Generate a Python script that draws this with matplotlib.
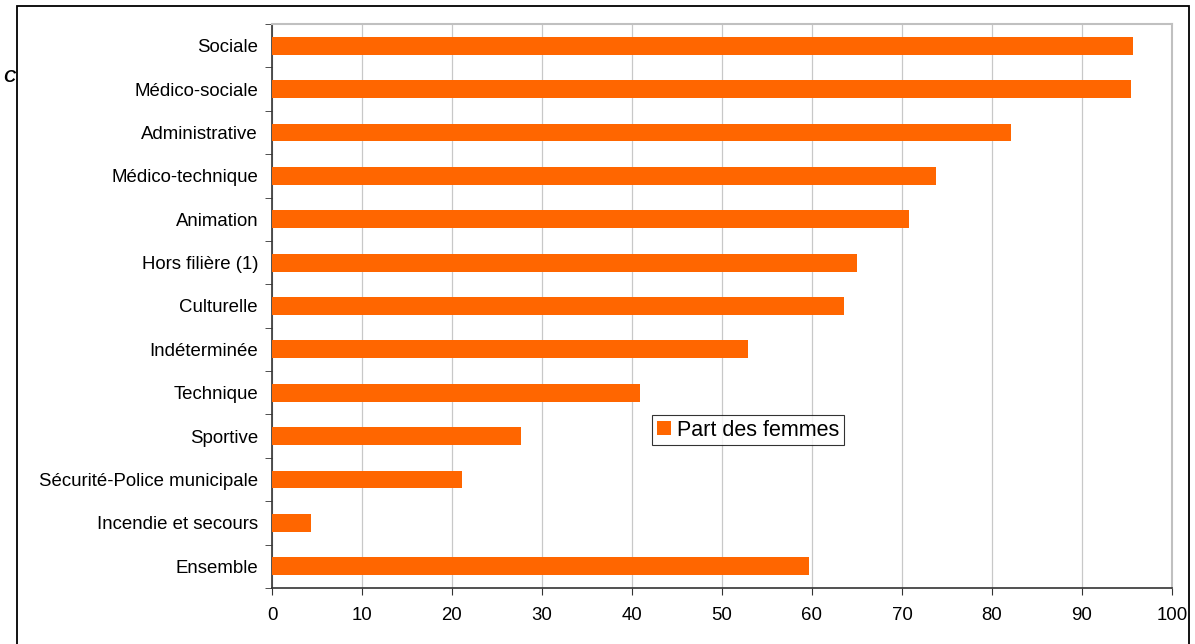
import matplotlib.pyplot as plt
import matplotlib.patches as patches
import numpy as np

plt.rcParams['font.family'] = ['Liberation Sans', 'DejaVu Sans']

categories = ["Sociale", "Médico-sociale", "Administrative", "Médico-technique",
              "Animation", "Hors filière (1)", "Culturelle", "Indéterminée",
              "Technique", "Sportive", "Sécurité-Police municipale",
              "Incendie et secours", "Ensemble"]
part_femmes = [95.7, 95.4, 82.1, 73.8, 70.8, 65.0, 63.6, 52.9, 40.9, 27.7, 21.1, 4.3, 59.7]

fig = plt.figure(figsize=(11.95, 6.44), dpi=100)
ax = fig.add_axes([272/1195, 1-588/644, 900/1195, 564/644])

y = np.arange(len(categories))[::-1]
ax.barh(y, part_femmes, height=0.41, color="#FF6600", label="Part des femmes", zorder=3)

ax.set_xlim(0, 100)
ax.set_ylim(-0.5, len(categories) - 0.5)
ax.set_xticks(np.arange(0, 101, 10))
ax.set_yticks(y)
ax.set_yticklabels(categories, fontsize=13.4)
ax.set_yticks(np.arange(-0.5, len(categories), 1), minor=True)
ax.tick_params(axis='y', which='major', length=0, pad=10)
ax.tick_params(axis='y', which='minor', length=5, color='#333333', direction='out')
ax.tick_params(axis='x', length=5, color='#333333', labelsize=13.4, pad=9)
ax.xaxis.grid(True, color='#c8c8c8', linewidth=0.9, zorder=0)

for s in ['top', 'right']:
    ax.spines[s].set_color('#c0c0c0')
    ax.spines[s].set_linewidth(1.5)
for s in ['left', 'bottom']:
    ax.spines[s].set_color('#333333')
    ax.spines[s].set_linewidth(1.2)

leg = ax.legend(loc='center', bbox_to_anchor=(0.529, 0.28), fontsize=15.5,
                frameon=True, fancybox=False, edgecolor='black',
                handlelength=0.65, handleheight=0.65, handletextpad=0.3,
                borderpad=0.22, borderaxespad=0)
leg.get_frame().set_linewidth(0.8)

# outer border of the figure
fig.patches.append(patches.Rectangle((17/1195, -0.02), (1189-17)/1195, 1.02 - 6/644,
                                     transform=fig.transFigure, fill=False,
                                     edgecolor='black', linewidth=1.3))
fig.text(0.003, 1 - 78/644, "C", fontsize=12, fontweight='bold', fontstyle='italic',
         va='center', ha='left')

fig.savefig("out.png", dpi=100)
